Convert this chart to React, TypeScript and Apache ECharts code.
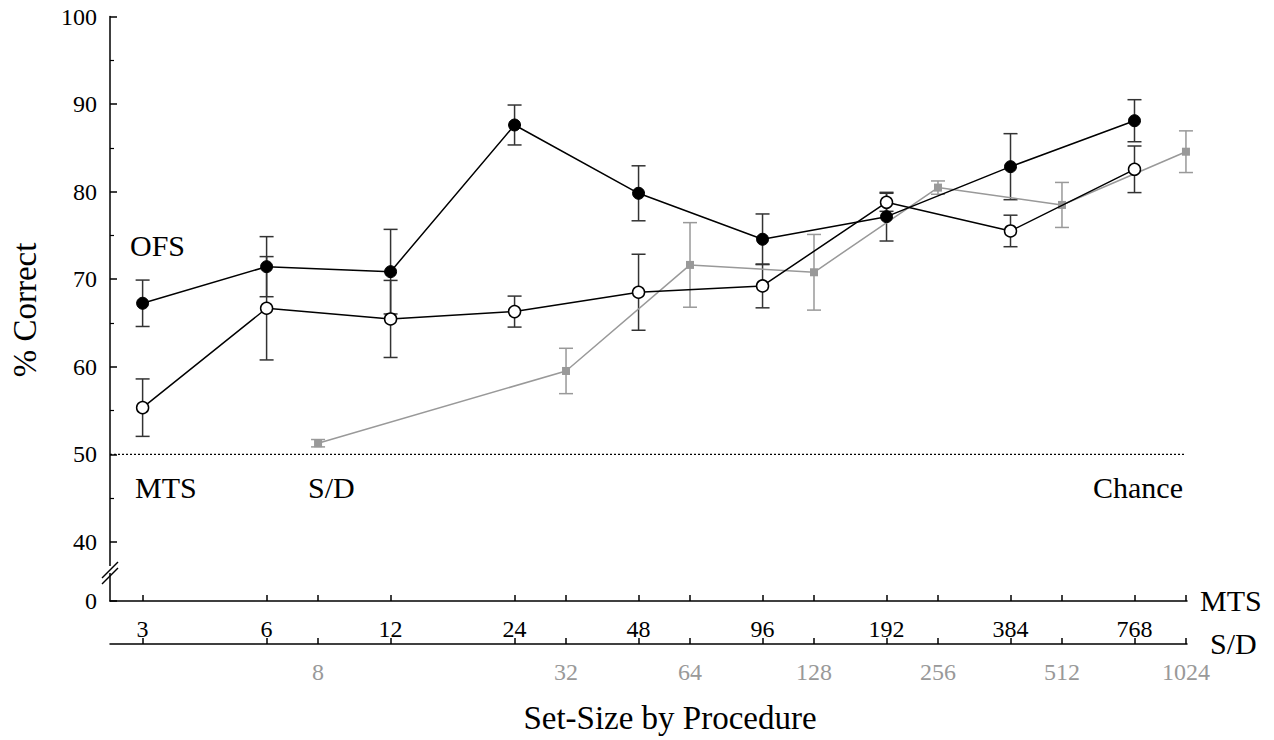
import React, { useEffect, useRef } from "react";
import * as echarts from "echarts";

// ---- data ----
const MTS_SIZES = [3, 6, 12, 24, 48, 96, 192, 384, 768];
const SD_SIZES = [8, 32, 64, 128, 256, 512, 1024];
const OFS_MEAN = [67.25, 71.43, 70.86, 87.61, 79.81, 74.56, 77.14, 82.85, 88.1];
const OFS_ERR = [2.65, 3.43, 4.83, 2.28, 3.14, 2.89, 2.78, 3.77, 2.4];
const MTS_MEAN = [55.33, 66.68, 65.46, 66.3, 68.51, 69.23, 78.78, 75.51, 82.55];
const MTS_ERR = [3.28, 5.9, 4.4, 1.77, 4.34, 2.5, 1.03, 1.8, 2.66];
const SD_MEAN = [51.27, 59.52, 71.63, 70.79, 80.46, 78.48, 84.56];
const SD_ERR = [0.42, 2.59, 4.83, 4.32, 0.76, 2.57, 2.38];
const CHANCE = 50;
const Y_TICKS = [40, 50, 60, 70, 80, 90, 100];
const Y_MINOR = [45, 55, 65, 75, 85, 95];
const Y_BREAK_POS = 33.25; // where the "0" sits below the axis break

const FONT = "Liberation Serif";
const GRAY = "#999999";
const toLog = (v: number) => Math.log2(v);
const X_MIN = toLog(2.5);
const X_MAX = toLog(1030);
const ALL_TICKS = [...MTS_SIZES, ...SD_SIZES].sort((a, b) => a - b);

function errData(xs: number[], m: number[], e: number[]) {
  return xs.map((x, i) => [toLog(x), m[i] - e[i], m[i] + e[i]]);
}

function errSeries(data: number[][], color: string) {
  return {
    type: "custom",
    xAxisIndex: 0,
    yAxisIndex: 0,
    z: 1,
    data,
    renderItem: (params: any, api: any) => {
      const x = api.value(0);
      const lo = api.coord([x, api.value(1)]);
      const hi = api.coord([x, api.value(2)]);
      const w = 7;
      const style = { stroke: color, lineWidth: 1.5 };
      return {
        type: "group",
        children: [
          { type: "line", shape: { x1: lo[0], y1: lo[1], x2: hi[0], y2: hi[1] }, style },
          { type: "line", shape: { x1: lo[0] - w, y1: lo[1], x2: lo[0] + w, y2: lo[1] }, style },
          { type: "line", shape: { x1: hi[0] - w, y1: hi[1], x2: hi[0] + w, y2: hi[1] }, style },
        ],
      };
    },
  };
}

function xAxisBase(labelValues: number[], labelColor: string, offset: number) {
  return {
    type: "value",
    gridIndex: 0,
    min: X_MIN,
    max: X_MAX,
    position: "bottom",
    offset,
    axisLine: { show: true, onZero: false, lineStyle: { color: "#000", width: 1.5 } },
    axisTick: {
      show: true,
      inside: true,
      length: 6,
      customValues: ALL_TICKS.map(toLog),
      lineStyle: { color: "#000", width: 1.5 },
    },
    axisLabel: {
      show: true,
      customValues: labelValues.map(toLog),
      formatter: (v: number) => String(Math.round(Math.pow(2, v))),
      fontSize: 24,
      fontFamily: FONT,
      color: labelColor,
      margin: 16,
    },
    splitLine: { show: false },
  };
}

export default function App() {
  const ref = useRef<HTMLDivElement>(null);
  useEffect(() => {
    if (!ref.current) return;
    const chart = echarts.init(ref.current, null, { renderer: "svg" });
    const textStyle = (size: number, extra: any = {}) => ({
      fontFamily: FONT,
      fontSize: size,
      fill: "#000",
      ...extra,
    });
    chart.setOption({
      animation: false,
      backgroundColor: "#fff",
      grid: {
        left: 110,
        right: 87,
        top: 16.5,
        bottom: 139,
        containLabel: false,
        outerBoundsMode: "none",
      },
      xAxis: [
        xAxisBase(MTS_SIZES, "#000", 0),
        xAxisBase(SD_SIZES, GRAY, 43),
      ],
      yAxis: [
        {
          type: "value",
          min: Y_BREAK_POS,
          max: 100,
          position: "left",
          axisLine: { show: true, onZero: false, lineStyle: { color: "#000", width: 1.5 } },
          axisTick: {
            show: true,
            inside: true,
            length: 7,
            customValues: [Y_BREAK_POS, ...Y_TICKS],
            lineStyle: { color: "#000", width: 1.5 },
          },
          axisLabel: {
            customValues: [Y_BREAK_POS, ...Y_TICKS],
            formatter: (v: number) => (v < 39 ? "0" : String(Math.round(v))),
            fontSize: 24,
            fontFamily: FONT,
            color: "#000",
            margin: 13,
          },
          splitLine: { show: false },
        },
        {
          type: "value",
          min: Y_BREAK_POS,
          max: 100,
          position: "left",
          axisLine: { show: false, onZero: false },
          axisTick: {
            show: true,
            inside: true,
            length: 4,
            customValues: Y_MINOR,
            lineStyle: { color: "#000", width: 1.2 },
          },
          axisLabel: { show: false },
          splitLine: { show: false },
        },
      ],
      series: [
        {
          type: "line",
          xAxisIndex: 0,
          yAxisIndex: 0,
          z: 1,
          symbol: "none",
          data: [
            [X_MIN, CHANCE],
            [toLog(SD_SIZES[SD_SIZES.length - 1]), CHANCE],
          ],
          lineStyle: { color: "#000", width: 1.2, type: [2, 2] },
          silent: true,
        },
        errSeries(errData(SD_SIZES, SD_MEAN, SD_ERR), GRAY),
        errSeries(errData(MTS_SIZES, OFS_MEAN, OFS_ERR), "#333"),
        errSeries(errData(MTS_SIZES, MTS_MEAN, MTS_ERR), "#333"),
        {
          type: "line",
          name: "S/D",
          xAxisIndex: 0,
          yAxisIndex: 0,
          z: 2,
          data: SD_SIZES.map((x, i) => [toLog(x), SD_MEAN[i]]),
          symbol: "rect",
          symbolSize: 8,
          itemStyle: { color: GRAY },
          lineStyle: { color: GRAY, width: 1.5 },
        },
        {
          type: "line",
          name: "MTS",
          xAxisIndex: 0,
          yAxisIndex: 0,
          z: 3,
          data: MTS_SIZES.map((x, i) => [toLog(x), MTS_MEAN[i]]),
          symbol: "circle",
          symbolSize: 12,
          itemStyle: { color: "#fff", borderColor: "#000", borderWidth: 1.5 },
          lineStyle: { color: "#000", width: 1.5 },
        },
        {
          type: "line",
          name: "OFS",
          xAxisIndex: 0,
          yAxisIndex: 0,
          z: 4,
          data: MTS_SIZES.map((x, i) => [toLog(x), OFS_MEAN[i]]),
          symbol: "circle",
          symbolSize: 12,
          itemStyle: { color: "#000", borderColor: "#000", borderWidth: 1 },
          lineStyle: { color: "#000", width: 1.5 },
        },
      ],
      graphic: [
        { type: "rect", shape: { x: 105, y: 566, width: 9, height: 7 }, style: { fill: "#fff" }, z: 100 },
        { type: "line", shape: { x1: 102, y1: 578, x2: 118, y2: 562 }, style: { stroke: "#000", lineWidth: 1.5 }, z: 101 },
        { type: "line", shape: { x1: 102, y1: 584, x2: 118, y2: 568 }, style: { stroke: "#000", lineWidth: 1.5 }, z: 101 },
        { type: "text", x: 130, y: 245, style: textStyle(30, { text: "OFS", verticalAlign: "middle" }) },
        { type: "text", x: 135, y: 487, style: textStyle(30, { text: "MTS", verticalAlign: "middle" }) },
        { type: "text", x: 308, y: 487, style: textStyle(30, { text: "S/D", verticalAlign: "middle" }) },
        { type: "text", x: 1183, y: 487, style: textStyle(30, { text: "Chance", align: "right", verticalAlign: "middle" }) },
        { type: "text", x: 1200, y: 600, style: textStyle(30, { text: "MTS", verticalAlign: "middle" }) },
        { type: "text", x: 1210, y: 643, style: textStyle(30, { text: "S/D", verticalAlign: "middle" }) },
        {
          type: "text",
          x: 25,
          y: 310,
          rotation: Math.PI / 2,
          style: textStyle(33, { text: "% Correct", align: "center", verticalAlign: "middle" }),
        },
        {
          type: "text",
          x: 670,
          y: 718,
          style: textStyle(33, { text: "Set-Size by Procedure", align: "center", verticalAlign: "middle" }),
        },
      ],
    });
    return () => chart.dispose();
  }, []);
  return (
    <div
      ref={ref}
      style={{ position: "fixed", left: 0, top: 0, width: 1274, height: 740, background: "#fff" }}
    />
  );
}
